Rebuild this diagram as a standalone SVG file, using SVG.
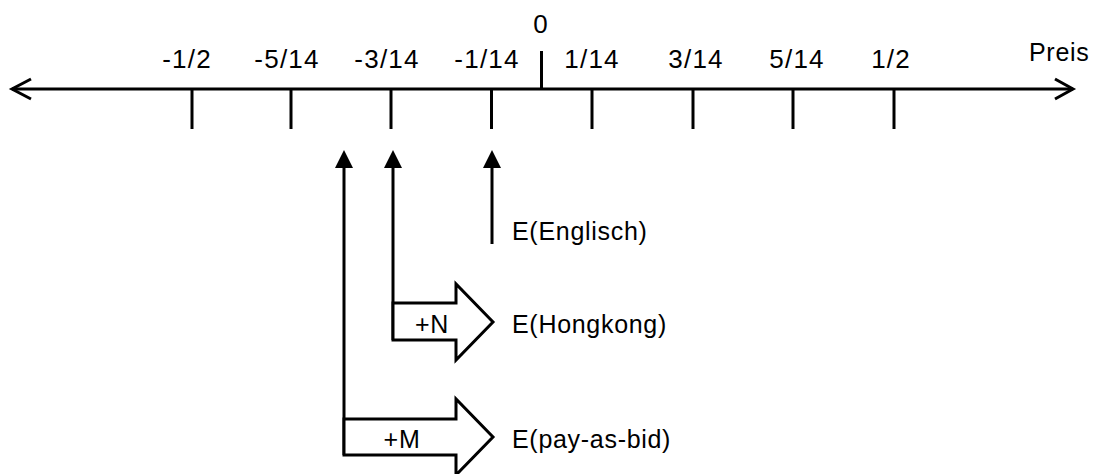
<svg xmlns="http://www.w3.org/2000/svg" width="1097" height="474" viewBox="0 0 1097 474">
<defs>
<style>
text{font-family:"Liberation Sans",Arial,sans-serif;font-size:25px;fill:#000;letter-spacing:0.7px}
.num{font-size:26px;letter-spacing:1.2px}
.lbl{text-anchor:middle}
.ln{stroke:#000;stroke-width:3;fill:none}
.blk{stroke:#000;stroke-width:3;fill:#fff;stroke-linejoin:miter}
</style>
<marker id="tri" markerWidth="18" markerHeight="18" refX="4" refY="9" orient="auto" markerUnits="userSpaceOnUse" viewBox="0 0 18 18">
<path d="M0 0 L18 9 L0 18 Z" fill="#000"/>
</marker>
</defs>
<rect width="1097" height="474" fill="#fff"/>
<g id="axis">
<line class="ln" x1="12" y1="89" x2="1073" y2="89"/>
<polyline class="ln" points="31,79 12,89 31,99"/>
<polyline class="ln" points="1055,79 1073,89 1055,99"/>
<line class="ln" x1="541.5" y1="51" x2="541.5" y2="89"/>
<line class="ln" x1="192" y1="89" x2="192" y2="129"/>
<line class="ln" x1="291" y1="89" x2="291" y2="129"/>
<line class="ln" x1="391" y1="89" x2="391" y2="129"/>
<line class="ln" x1="491.5" y1="89" x2="491.5" y2="129"/>
<line class="ln" x1="592" y1="89" x2="592" y2="129"/>
<line class="ln" x1="693" y1="89" x2="693" y2="129"/>
<line class="ln" x1="793" y1="89" x2="793" y2="129"/>
<line class="ln" x1="894" y1="89" x2="894" y2="129"/>
<text class="lbl num" x="541" y="33">0</text>
<text class="lbl num" x="187" y="68">-1/2</text>
<text class="lbl num" x="287" y="68">-5/14</text>
<text class="lbl num" x="387" y="68">-3/14</text>
<text class="lbl num" x="487" y="68">-1/14</text>
<text class="lbl num" x="592" y="68">1/14</text>
<text class="lbl num" x="696" y="68">3/14</text>
<text class="lbl num" x="797" y="68">5/14</text>
<text class="lbl num" x="891" y="68">1/2</text>
<text x="1029" y="61">Preis</text>
</g>
<g id="connectors">
<line class="ln" x1="492" y1="244" x2="492" y2="164" marker-end="url(#tri)"/>
<line class="ln" x1="393" y1="340" x2="393" y2="164" marker-end="url(#tri)"/>
<line class="ln" x1="344" y1="455" x2="344" y2="164" marker-end="url(#tri)"/>
</g>
<g id="englisch">
<text x="512" y="240">E(Englisch)</text>
</g>
<g id="hongkong">
<polygon class="blk" points="393,303 456,303 456,284 493,322 456,360 456,340 393,340"/>
<text class="lbl" x="432" y="333">+N</text>
<text x="512" y="333">E(Hongkong)</text>
</g>
<g id="payasbid">
<polygon class="blk" points="344,419 456,419 456,399 493,437 456,475 456,455 344,455"/>
<text class="lbl" x="402" y="448">+M</text>
<text x="512" y="448">E(pay-as-bid)</text>
</g>
</svg>
